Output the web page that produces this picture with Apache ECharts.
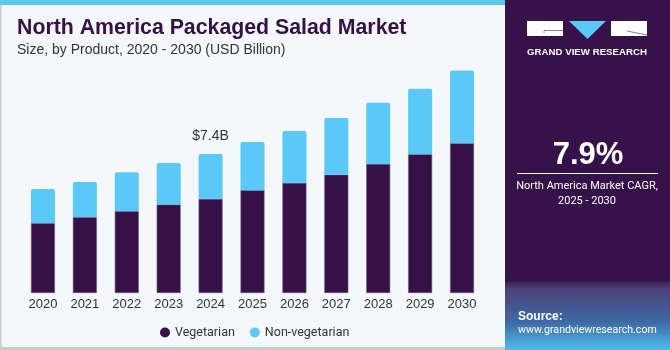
<!DOCTYPE html>
<html>
<head>
<meta charset="utf-8">
<script src="https://cdn.jsdelivr.net/npm/echarts@6/dist/echarts.min.js"></script>
<style>
html,body{margin:0;padding:0;background:#fff;}
#chart{width:670px;height:350px;}
</style>
</head>
<body>
<div id="chart"></div>
<script>
var years = ['2020','2021','2022','2023','2024','2025','2026','2027','2028','2029','2030'];
var vegetarian = [3.72, 4.04, 4.36, 4.71, 5.01, 5.47, 5.86, 6.30, 6.87, 7.39, 7.97];
var nonVegetarian = [1.81, 1.87, 2.07, 2.21, 2.39, 2.57, 2.76, 3.01, 3.26, 3.48, 3.88];
var highlightIndex = 4;
var highlightLabel = '$7.4B';
var seriesNames = ['Vegetarian', 'Non-vegetarian'];
var cagrValue = '7.9%';

var purple = '#361148';
var blue = '#5bc9f7';
var FONT = '"Liberation Sans", Arial, sans-serif';
var NARROW = 'Roboto, "Liberation Sans", Arial, sans-serif';
var chart = echarts.init(document.getElementById('chart'), null, {renderer: 'canvas'});

var option = {
  backgroundColor: '#f4f8fb',
  animation: false,
  grid: {left: 22, right: 187, top: 30, bottom: 57},
  xAxis: {
    type: 'category',
    data: years,
    axisLine: {show: false},
    axisTick: {show: false},
    axisLabel: {color: '#333', fontSize: 13, margin: 5, fontFamily: FONT}
  },
  yAxis: {
    type: 'value', min: 0, max: 14,
    show: false
  },
  legend: {
    data: seriesNames,
    left: 155, top: 321,
    icon: 'circle',
    itemWidth: 10, itemHeight: 10,
    itemGap: 15,
    itemStyle: {borderWidth: 0},
    textStyle: {color: '#333', fontSize: 12.5, fontFamily: NARROW}
  },
  series: [
    {
      name: seriesNames[0], type: 'bar', stack: 'total',
      data: vegetarian, barWidth: 24,
      itemStyle: {color: purple, borderColor: '#6d5a85', borderWidth: 0.6}
    },
    {
      name: seriesNames[1], type: 'bar', stack: 'total',
      data: nonVegetarian.map(function (v, i) {
        if (i === highlightIndex) {
          return {value: v, label: {show: true, position: 'top', distance: 11, formatter: highlightLabel,
            color: '#333', fontSize: 14, fontFamily: FONT}};
        }
        return v;
      }),
      barWidth: 24,
      itemStyle: {color: blue, borderRadius: [2, 2, 0, 0]}
    }
  ],
  graphic: [
    {type: 'rect', z: 0, shape: {x: 0, y: 0, width: 505, height: 5}, style: {fill: '#5bc9f0'}},
    {type: 'rect', z: 0, shape: {x: 0, y: 5, width: 1.5, height: 345}, style: {fill: '#c8ccd0'}},
    {type: 'rect', z: 0, shape: {x: 0, y: 347, width: 505, height: 3}, style: {fill: '#c8cbce'}},
    {type: 'text', left: 17, top: 18, style: {text: 'North America Packaged Salad Market', fill: purple,
      font: 'bold 21.3px ' + FONT}},
    {type: 'text', left: 17, top: 43, style: {text: 'Size, by Product, 2020 - 2030 (USD Billion)', fill: '#333',
      font: '14px ' + FONT}},
    // right panel
    {type: 'rect', z: 0, shape: {x: 505, y: 0, width: 165, height: 350}, style: {fill: '#37124a'}},
    {type: 'rect', z: 1, shape: {x: 505, y: 281, width: 165, height: 69}, style: {
      fill: new echarts.graphic.LinearGradient(0, 0, 0, 1, [
        {offset: 0, color: '#3c1d55'}, {offset: 0.12, color: '#4a4278'},
        {offset: 0.6, color: '#3f6aa6'}, {offset: 1, color: '#4fbdec'}])}},
    // logo
    {type: 'polygon', z: 5, shape: {points: [[527, 21], [563, 21], [563, 36], [527, 36]]}, style: {fill: '#ffffff'}},
    {type: 'polygon', z: 5, shape: {points: [[569, 21], [606, 21], [587.5, 39]]}, style: {fill: '#5bc9f5'}},
    {type: 'polygon', z: 5, shape: {points: [[611, 21], [647, 21], [647, 36], [611, 36]]}, style: {fill: '#ffffff'}},
    {type: 'polyline', z: 6, shape: {points: [[563, 30.5], [544, 30.5], [544, 33]]}, style: {stroke: '#6a5a80', lineWidth: 0.8, fill: null}},
    {type: 'line', z: 6, shape: {x1: 627, y1: 31, x2: 647, y2: 35}, style: {stroke: '#6a5a80', lineWidth: 0.8}},
    {type: 'text', z: 3, left: 527, top: 47, style: {text: 'GRAND VIEW RESEARCH', fill: '#fff',
      font: 'bold 9.7px ' + FONT}},
    {type: 'text', z: 3, x: 588, y: 155, style: {text: cagrValue, fill: '#fff', align: 'center', verticalAlign: 'middle',
      font: 'bold 31px ' + FONT}},
    {type: 'rect', z: 3, shape: {x: 517, y: 173, width: 141, height: 1}, style: {fill: '#ffffff'}},
    {type: 'text', z: 3, x: 587, y: 186, style: {text: 'North America Market CAGR,', fill: '#fff', align: 'center', verticalAlign: 'middle',
      font: '11px ' + NARROW}},
    {type: 'text', z: 3, x: 587, y: 201, style: {text: '2025 - 2030', fill: '#fff', align: 'center', verticalAlign: 'middle',
      font: '11px ' + NARROW}},
    {type: 'text', z: 3, left: 518, top: 311, style: {text: 'Source:', fill: '#fff',
      font: 'bold 12px ' + FONT}},
    {type: 'text', z: 3, left: 518, top: 325, style: {text: 'www.grandviewresearch.com', fill: '#fff',
      font: '10.6px ' + NARROW}}
  ]
};
chart.setOption(option);
</script>
</body>
</html>
